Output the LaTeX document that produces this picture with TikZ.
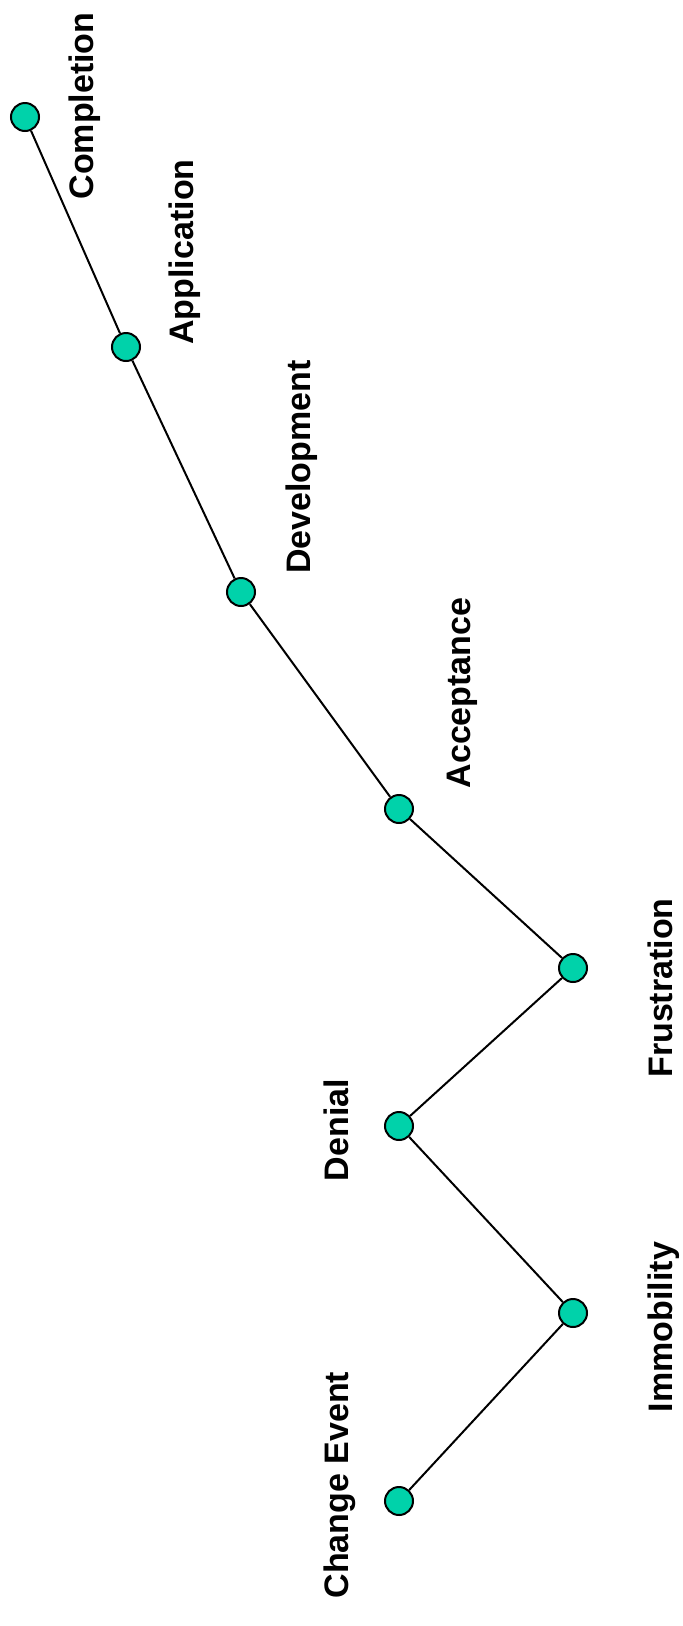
\documentclass[tikz,border=0pt]{standalone}
\usepackage{fontspec}
\setmainfont{Liberation Sans}
\definecolor{dotfill}{HTML}{00D2AA}
\begin{document}
\begin{tikzpicture}[x=1pt,y=-1pt,
  dot/.style={circle,draw=black,line width=2pt,fill=dotfill,minimum size=28pt,inner sep=0pt},
  lbl/.style={rotate=90,anchor=base,font=\fontsize{34}{40}\selectfont\bfseries,inner sep=0pt},
  link/.style={line width=2pt,black}]
\useasboundingbox (0,0) rectangle (683,1626);
\node[dot] (c1) at (399,1501) {};
\node[dot] (c2) at (573,1313) {};
\node[dot] (c3) at (399,1126) {};
\node[dot] (c4) at (573,968) {};
\node[dot] (c5) at (399,809) {};
\node[dot] (c6) at (241,592) {};
\node[dot] (c7) at (126,347) {};
\node[dot] (c8) at (25,117) {};
\draw[link] (c1) -- (c2) -- (c3) -- (c4) -- (c5) -- (c6) -- (c7) -- (c8);
\node[lbl] (l1) at (348,1485) {Change Event};
\node[lbl] (l2) at (672,1327) {Immobility};
\node[lbl] (l3) at (348,1130) {Denial};
\node[lbl] (l4) at (672,988) {Frustration};
\node[lbl] (l5) at (470,693) {Acceptance};
\node[lbl] (l6) at (310,467) {Development};
\node[lbl] (l7) at (193,252) {Application};
\node[lbl] (l8) at (93,106) {Completion};
\end{tikzpicture}
\end{document}
